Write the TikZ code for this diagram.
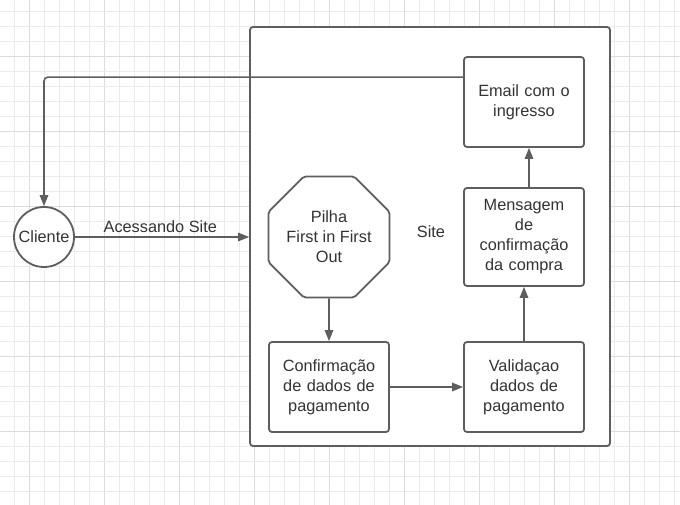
\documentclass[tikz,border=0pt]{standalone}
\usepackage{fontspec}
\setmainfont{Liberation Sans}
\usetikzlibrary{arrows.meta,shapes.geometric}
\definecolor{stroke}{RGB}{94,94,94}
\definecolor{txt}{RGB}{51,51,51}
\definecolor{gridminor}{RGB}{235,235,235}
\definecolor{gridmajor}{RGB}{220,220,220}
\begin{document}
\begin{tikzpicture}[x=1pt,y=-1pt,
  font=\fontsize{16.3}{20}\selectfont, text=txt,
  box/.style={draw=stroke, line width=1.8pt, fill=white, rounded corners=3pt,
    minimum width=120pt, text width=114pt, align=center, inner sep=0pt},
  conn/.style={draw=stroke, line width=1.6pt, -{Triangle[length=11pt,width=8.5pt]}},
  plain/.style={inner sep=0pt}]
\useasboundingbox (0,0) rectangle (680,505);
\fill[white] (0,0) rectangle (680,505);
% grid
\foreach \k in {0,...,44} {
  \pgfmathtruncatemacro{\m}{mod(\k,5)}
  \ifnum\m=1
    \draw[gridmajor, line width=0.8pt] ({14.5+15*\k},0) -- ({14.5+15*\k},505);
  \else
    \draw[gridminor, line width=0.8pt] ({14.5+15*\k},0) -- ({14.5+15*\k},505);
  \fi
}
\foreach \k in {0,...,33} {
  \pgfmathtruncatemacro{\m}{mod(\k,5)}
  \ifnum\m=3
    \draw[gridmajor, line width=0.8pt] (0,{11.5+15*\k}) -- (680,{11.5+15*\k});
  \else
    \draw[gridminor, line width=0.8pt] (0,{11.5+15*\k}) -- (680,{11.5+15*\k});
  \fi
}
% container
\node[draw=stroke, line width=1.8pt, fill=white, rounded corners=3pt,
  minimum width=360pt, minimum height=419pt, inner sep=0pt] (site) at (430,236.5) {};
\node[plain] (sitelabel) at (431,232) {Site};
% nodes
\node[draw=stroke, line width=1.8pt, fill=white, circle, minimum size=60pt, inner sep=0pt] (cliente) at (44,237) {Cliente};
\node[draw=stroke, line width=1.8pt, fill=white, regular polygon, regular polygon sides=8,
  rounded corners=2pt, minimum size=131pt, inner sep=0pt, align=center] (pilha) at (329,237) {Pilha\\First in First\\Out};
\node[box, minimum height=90pt] (email) at (524,102) {Email com o\\ingresso};
\node[box, minimum height=98pt] (mensagem) at (524,237) {Mensagem\\de\\confirmação\\da compra};
\node[box, minimum height=90pt] (confirm) at (329,387) {Confirmação\\de dados de\\pagamento};
\node[box, minimum height=90pt] (valid) at (524,387) {Validaçao\\dados de\\pagamento};
% connectors
\draw[conn] (cliente.east) -- node[above=4pt, plain, pos=0.49] (acess) {Acessando Site} (site.west |- cliente.east);
\draw[conn, rounded corners=4pt] ([yshift=-21pt]email.north west) -| (cliente.north);
\draw[conn] (pilha.south) -- (confirm.north);
\draw[conn] (confirm.east) -- (valid.west);
\draw[conn] (valid.north) -- (mensagem.south);
\draw[conn] ([xshift=5pt]mensagem.north) -- ([xshift=5pt]email.south);
\end{tikzpicture}
\end{document}
